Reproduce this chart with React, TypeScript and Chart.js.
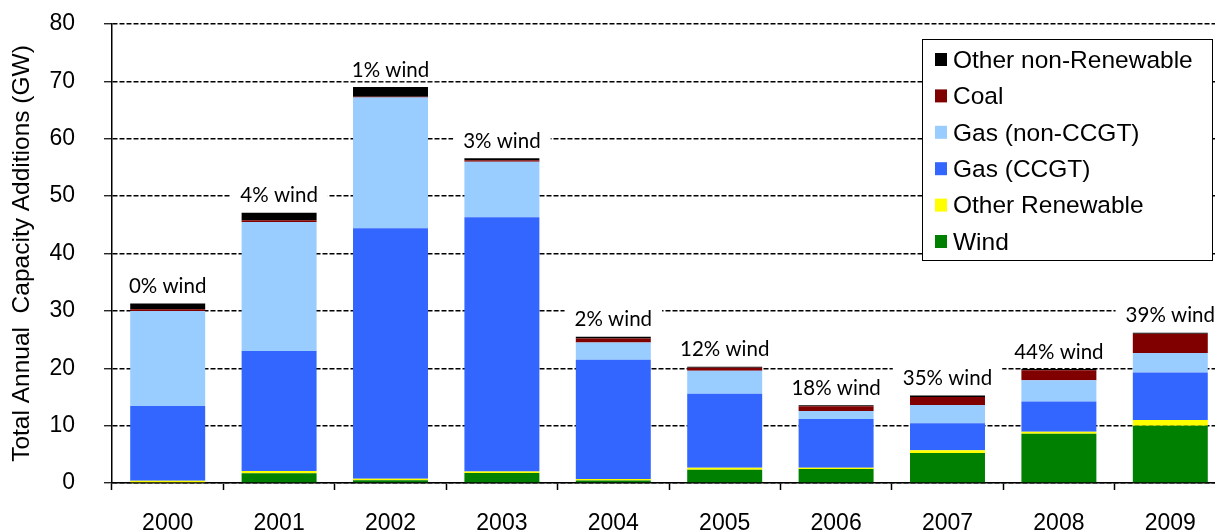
import React, { useEffect, useRef } from "react";
import { Chart, registerables } from "chart.js";

Chart.register(...registerables);

const years = ["2000", "2001", "2002", "2003", "2004", "2005", "2006", "2007", "2008", "2009"];
const wind = [0, 1.7, 0.5, 1.75, 0.45, 2.3, 2.45, 5.25, 8.6, 10.0];
const otherRenewable = [0.4, 0.4, 0.25, 0.25, 0.25, 0.37, 0.22, 0.45, 0.35, 1.0];
const gasCCGT = [13.0, 20.9, 43.65, 44.3, 20.8, 12.9, 8.5, 4.7, 5.25, 8.25];
const gasNonCCGT = [16.6, 22.5, 22.8, 9.7, 3.0, 4.0, 1.4, 3.2, 3.7, 3.4];
const coal = [0.3, 0.3, 0.1, 0.25, 0.7, 0.5, 0.8, 1.4, 1.75, 3.35];
const otherNonRenewable = [1.0, 1.3, 1.7, 0.35, 0.3, 0.2, 0.2, 0.23, 0.2, 0.2];
const windShare = [0, 4, 1, 3, 2, 12, 18, 35, 44, 39];

const AXIS_FONT = '"Liberation Sans", Arial, sans-serif';
const LABEL_FONT = 'Lato, "Open Sans", sans-serif';

export default function App() {
  const ref = useRef<HTMLCanvasElement>(null);

  useEffect(() => {
    const canvas = ref.current;
    if (!canvas) return;

    const windLabels = {
      id: "windLabels",
      beforeDatasetsDraw(chart: any) {
        const ctx = chart.ctx;
        const yScale = chart.scales.y;
        const meta = chart.getDatasetMeta(0);
        ctx.save();
        ctx.font = `20.5px ${LABEL_FONT}`;
        ctx.textAlign = "center";
        ctx.textBaseline = "middle";
        years.forEach((_, i) => {
          let total = 0;
          chart.data.datasets.forEach((d: any) => (total += d.data[i]));
          const x = meta.data[i].x;
          const y = yScale.getPixelForValue(total) - 17;
          const text = `${windShare[i]}% wind`;
          const w = ctx.measureText(text).width;
          ctx.fillStyle = "#ffffff";
          ctx.fillRect(x - w / 2 - 10, y - 11, w + 20, 22);
          ctx.fillStyle = "#000000";
          ctx.fillText(text, x, y);
        });
        ctx.restore();
      },
    };

    const boxLegend = {
      id: "boxLegend",
      afterDraw(chart: any) {
        const ctx = chart.ctx;
        ctx.save();
        const bx = 922.5, by = 39.5, bw = 290, bh = 221;
        ctx.fillStyle = "#ffffff";
        ctx.fillRect(bx, by, bw, bh);
        ctx.strokeStyle = "#000000";
        ctx.lineWidth = 1;
        ctx.strokeRect(bx, by, bw, bh);
        ctx.font = `24.5px ${AXIS_FONT}`;
        ctx.textBaseline = "middle";
        ctx.textAlign = "left";
        const ds = chart.data.datasets.slice().reverse();
        ds.forEach((d: any, i: number) => {
          const cy = 60 + i * 36.4;
          ctx.fillStyle = d.backgroundColor;
          ctx.fillRect(935, cy - 7, 12, 13);
          ctx.fillStyle = "#000000";
          ctx.fillText(d.label, 953, cy + 1);
        });
        ctx.restore();
      },
    };

    const chart = new Chart(canvas, {
      type: "bar",
      data: {
        labels: years,
        datasets: [
          { label: "Wind", data: wind, backgroundColor: "#008000" },
          { label: "Other Renewable", data: otherRenewable, backgroundColor: "#FFFF00" },
          { label: "Gas (CCGT)", data: gasCCGT, backgroundColor: "#3366FF" },
          { label: "Gas (non-CCGT)", data: gasNonCCGT, backgroundColor: "#99CCFF" },
          { label: "Coal", data: coal, backgroundColor: "#800000" },
          { label: "Other non-Renewable", data: otherNonRenewable, backgroundColor: "#000000" },
        ],
      },
      options: {
        animation: false,
        responsive: false,
        devicePixelRatio: 1,
        datasets: {
          bar: { barPercentage: 0.673, categoryPercentage: 1, borderWidth: 0 },
        },
        layout: { padding: { top: 24, right: 4, bottom: 0, left: 0 } },
        plugins: {
          legend: { display: false },
          tooltip: { enabled: false },
        },
        scales: {
          x: {
            stacked: true,
            grid: {
              display: true,
              drawOnChartArea: false,
              drawTicks: true,
              tickLength: 7,
              tickColor: "#000000",
              tickWidth: 1.5,
              offset: true,
            },
            border: { display: true, color: "#000000", width: 1.5 },
            ticks: {
              color: "#000000",
              font: { family: AXIS_FONT, size: 23 },
              padding: 20,
              maxRotation: 0,
            },
            afterFit: (s: any) => {
              s.height = 62;
            },
          },
          y: {
            stacked: true,
            min: 0,
            max: 80,
            ticks: {
              stepSize: 10,
              padding: 29,
              color: "#000000",
              font: { family: AXIS_FONT, size: 23 },
            },
            grid: {
              color: "#000000",
              lineWidth: 1.5,
              drawTicks: true,
              tickLength: 8,
              tickColor: "#000000",
              tickWidth: 1.2,
            },
            border: { display: true, color: "#000000", width: 1.5, dash: [5, 2] },
            title: {
              display: true,
              text: "Total Annual  Capacity Additions (GW)",
              color: "#000000",
              font: { family: AXIS_FONT, size: 24.5 },
              padding: { top: 8, bottom: 0 },
            },
            afterFit: (s: any) => {
              s.width = 112;
              s.paddingTop = 0;
              s.paddingBottom = 0;
            },
          },
        },
      },
      plugins: [windLabels, boxLegend],
    } as any);

    return () => chart.destroy();
  }, []);

  return (
    <div
      style={{
        position: "fixed",
        left: 0,
        top: 0,
        width: 1215,
        height: 531,
        overflow: "hidden",
        background: "#ffffff",
      }}
    >
      <canvas
        ref={ref}
        width={1230}
        height={545}
        style={{ display: "block", width: 1230, height: 545 }}
      />
    </div>
  );
}
